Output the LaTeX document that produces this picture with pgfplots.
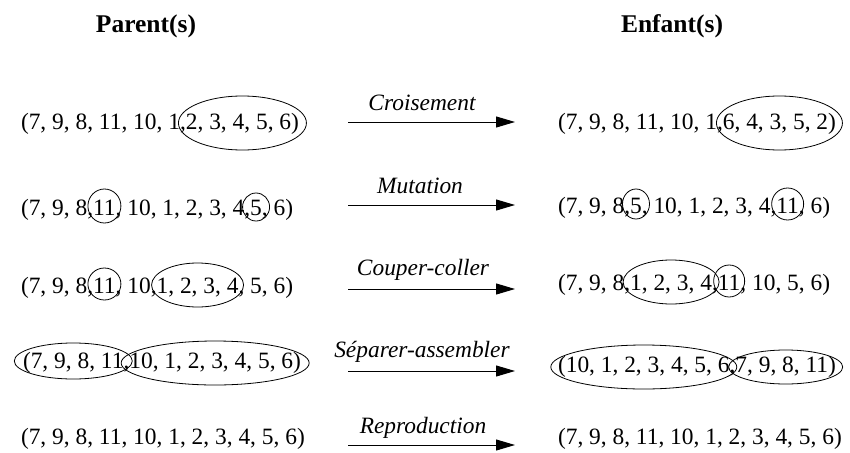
\documentclass[border=0pt]{standalone}
\usepackage{fontspec}
\setmainfont{Liberation Serif}
\usepackage{pgfplots}
\pgfplotsset{compat=1.18}
\usetikzlibrary{arrows.meta}
\newcommand\f{\fontsize{23.4pt}{28pt}\selectfont}
\begin{document}
\begin{tikzpicture}[
  seg/.style={inner sep=0pt, outer sep=0pt, anchor=base west, font=\f},
  lab/.style={inner sep=0pt, anchor=base, font=\f\itshape},
  el/.style={line width=0.8pt},
  arr/.style={line width=1pt, black, -{Triangle[length=19pt,width=11pt]}}]
\begin{axis}[width=850pt, height=452pt, scale only axis, hide axis, clip=false,
  xmin=0, xmax=850, ymin=0, ymax=452, y dir=reverse]
% headers
\node[inner sep=0pt, anchor=base, font=\fontsize{25.5pt}{30pt}\selectfont\bfseries] at (axis cs:146,33) {Parent(s)};
\node[inner sep=0pt, anchor=base, font=\fontsize{25.5pt}{30pt}\selectfont\bfseries] at (axis cs:672,33) {Enfant(s)};
% arrows
\addplot[arr] coordinates {(348,122) (515,122)};
\addplot[arr] coordinates {(348,205) (515,205)};
\addplot[arr] coordinates {(348,289) (515,289)};
\addplot[arr] coordinates {(348,371) (515,371)};
\addplot[arr] coordinates {(348,445) (515,445)};
% labels
\node[lab] at (axis cs:422,110) {Croisement};
\node[lab] at (axis cs:420,193) {Mutation};
\node[lab] at (axis cs:423,275) {Couper-coller};
\node[lab] at (axis cs:422,357) {Séparer-assembler};
\node[lab] at (axis cs:423,433) {Reproduction};
% row 1
\node[seg] (a1) at (axis cs:21,129) {(7, 9, 8, 11, 10, 1,~};
\node[seg] (a2) at (a1.base east) {2, 3, 4, 5, 6)};
\draw[el] ([yshift=6pt]a2.base) ellipse [x radius=64pt, y radius=27pt];
\node[seg] (b1) at (axis cs:558,129) {(7, 9, 8, 11, 10, 1,~};
\node[seg] (b2) at (b1.base east) {6, 4, 3, 5, 2)};
\draw[el] ([yshift=6pt]b2.base) ellipse [x radius=63pt, y radius=27pt];
% row 2
\node[seg] (c1) at (axis cs:21,215) {(7, 9, 8,~};
\node[seg] (c2) at (c1.base east) {11};
\node[seg] (c3) at (c2.base east) {,~10, 1, 2, 3, 4,~};
\node[seg] (c4) at (c3.base east) {5};
\node[seg] (c5) at (c4.base east) {,~6)};
\draw[el] ([yshift=9pt]c2.base) ellipse [x radius=16.5pt, y radius=17pt];
\draw[el] ([yshift=8pt]c4.base) ellipse [x radius=13.5pt, y radius=14pt];
\node[seg] (d1) at (axis cs:558,213) {(7, 9, 8,~};
\node[seg] (d2) at (d1.base east) {5};
\node[seg] (d3) at (d2.base east) {,~10, 1, 2, 3, 4,~};
\node[seg] (d4) at (d3.base east) {11};
\node[seg] (d5) at (d4.base east) {,~6)};
\draw[el] ([yshift=9pt]d2.base) ellipse [x radius=13.5pt, y radius=15pt];
\draw[el] ([yshift=9pt]d4.base) ellipse [x radius=16pt, y radius=16pt];
% row 3
\node[seg] (e1) at (axis cs:21,293) {(7, 9, 8,~};
\node[seg] (e2) at (e1.base east) {11};
\node[seg] (e3) at (e2.base east) {,~10,~};
\node[seg] (e4) at (e3.base east) {1, 2, 3, 4};
\node[seg] (e5) at (e4.base east) {,~5, 6)};
\draw[el] ([yshift=9pt]e2.base) ellipse [x radius=16.5pt, y radius=16pt];
\draw[el] ([yshift=8pt]e4.base) ellipse [x radius=46pt, y radius=22pt];
\node[seg] (f1) at (axis cs:558,290) {(7, 9, 8,~};
\node[seg] (f2) at (f1.base east) {1, 2, 3, 4};
\node[seg] (f3) at (f2.base east) {,~};
\node[seg] (f4) at (f3.base east) {11};
\node[seg] (f5) at (f4.base east) {,~10, 5, 6)};
\draw[el] ([yshift=8pt]f2.base) ellipse [x radius=48pt, y radius=22pt];
\draw[el] ([yshift=9pt]f4.base) ellipse [x radius=15.5pt, y radius=16pt];
% row 4
\node[seg] (g1) at (axis cs:23,368) {(7, 9, 8, 11};
\node[seg] (g2) at (g1.base east) {,~};
\node[seg] (g3) at (g2.base east) {10, 1, 2, 3, 4, 5, 6)};
\draw[el] ([yshift=7pt]g1.base) ellipse [x radius=59pt, y radius=18pt];
\draw[el] ([yshift=5pt]g3.base) ellipse [x radius=94pt, y radius=22pt];
\node[seg] (h1) at (axis cs:558,372) {(10, 1, 2, 3, 4, 5, 6};
\node[seg] (h2) at (h1.base east) {,~};
\node[seg] (h3) at (h2.base east) {7, 9, 8, 11)};
\draw[el] ([yshift=5pt]h1.base) ellipse [x radius=93pt, y radius=22pt];
\draw[el] ([yshift=5pt]h3.base) ellipse [x radius=57pt, y radius=17pt];
% row 5
\node[seg] at (axis cs:21,444) {(7, 9, 8, 11, 10, 1, 2, 3, 4, 5, 6)};
\node[seg] at (axis cs:558,444) {(7, 9, 8, 11, 10, 1, 2, 3, 4, 5, 6)};
\end{axis}
\pgfresetboundingbox
\path (0,0) rectangle (850pt,452pt);
\end{tikzpicture}
\end{document}
